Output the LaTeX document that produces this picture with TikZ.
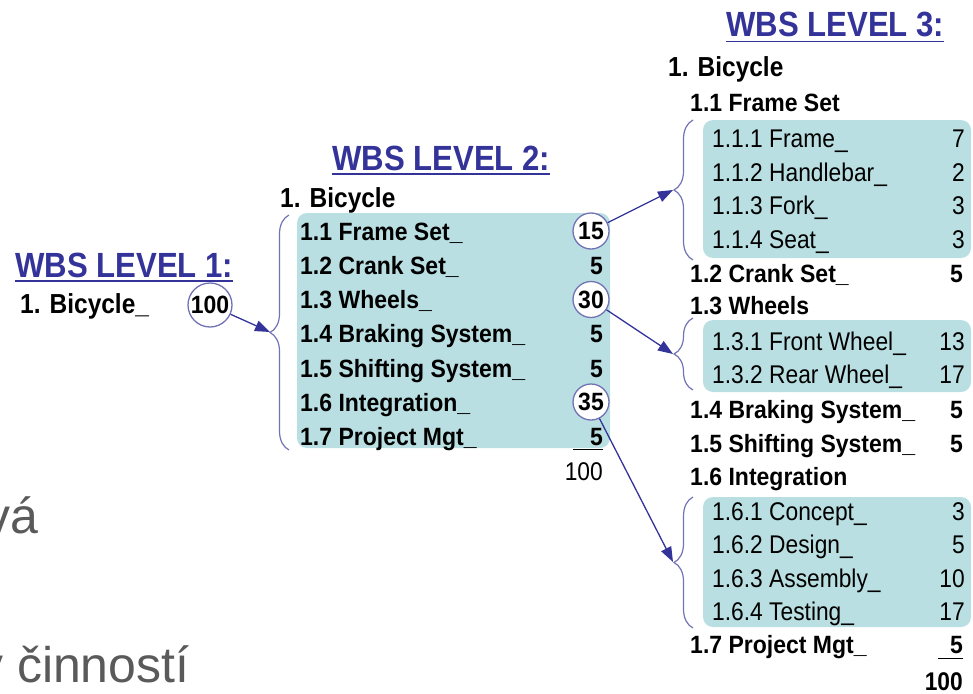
\documentclass[tikz,border=0pt]{standalone}
\usepackage{fontspec}
\setmainfont{Liberation Sans}
\newfontfamily\narrowfont[FakeStretch=0.89]{Liberation Sans}
\newfontfamily\condfont[FakeStretch=0.92]{Liberation Sans}
\usepackage{tikz}
\usetikzlibrary{arrows.meta}
\usetikzlibrary{decorations.pathreplacing}
\usetikzlibrary{calc}

\definecolor{wbsblue}{HTML}{333399}
\definecolor{bracecol}{HTML}{7272B4}
\definecolor{boxfill}{HTML}{B9DFE2}
\definecolor{greytext}{HTML}{5A5A5A}

\tikzset{
  title/.style={anchor=base west,inner sep=0pt,text=wbsblue,font=\narrowfont\bfseries\fontsize{35}{40}\selectfont},
  root/.style={anchor=base west,inner sep=0pt,font=\narrowfont\bfseries\fontsize{27.5}{32}\selectfont},
  item/.style={anchor=base west,inner sep=0pt,font=\condfont\bfseries\fontsize{25}{30}\selectfont},
  num/.style={anchor=base east,inner sep=0pt,font=\condfont\bfseries\fontsize{25}{30}\selectfont},
  sub/.style={anchor=base west,inner sep=0pt,font=\narrowfont\fontsize{25.6}{30}\selectfont},
  subnum/.style={anchor=base east,inner sep=0pt,font=\narrowfont\fontsize{25.6}{30}\selectfont},
  ring/.style={circle,draw=bracecol,fill=white,line width=1.3pt,minimum size=36pt,inner sep=0pt,font=\condfont\bfseries\fontsize{25}{30}\selectfont},
  brc/.style={draw=bracecol,line width=1.2pt,decorate,decoration={brace,amplitude=19pt}},
  panel/.style={fill=boxfill,rounded corners=10pt},
  link/.style={draw=wbsblue,line width=1.3pt,-{Triangle[length=15pt,width=11pt]}},
  bg/.style={anchor=base west,inner sep=0pt,text=greytext,font=\fontsize{50}{60}\selectfont}
}

\begin{document}
\begin{tikzpicture}[x=1pt,y=-1pt]
  \useasboundingbox (0,0) rectangle (973,693);
  % slide text behind the diagram
  \node[bg] (bga) at (-15,533) {vá};
  \node[bg] (bgb) at (-22,682) {v činností};

  % level 1
  \node[title] (t1) at (15,277) {WBS LEVEL 1:};
  \draw[wbsblue,line width=1.2pt] ([yshift=-4pt]t1.base west) -- ([yshift=-4pt]t1.base east);
  \node[root] (bike1) at (20,313) {1. Bicycle\_};
  \node[ring,minimum size=44pt] (r100) at (210,305) {100};

  % level 2
  \node[title] (t2) at (332,170) {WBS LEVEL 2:};
  \draw[wbsblue,line width=1.2pt] ([yshift=-4pt]t2.base west) -- ([yshift=-4pt]t2.base east);
  \node[root] (bike2) at (280,207) {1. Bicycle};
  \fill[panel] (297,213) rectangle (610,448);
  \draw[brc] (289,450) -- (289,215);
  \coordinate (tip0) at (270,332);
  \node[item] (fs2) at (300,240) {1.1 Frame Set\_};
  \node[item] (cs2) at (300,274) {1.2 Crank Set\_};
  \node[item] (wh2) at (300,308.5) {1.3 Wheels\_};
  \node[item] (bs2) at (300,342.7) {1.4 Braking System\_};
  \node[item] (ss2) at (300,377) {1.5 Shifting System\_};
  \node[item] (in2) at (300,411) {1.6 Integration\_};
  \node[item] (pm2) at (300,445) {1.7 Project Mgt\_};
  \node[ring] (r15) at (591,231) {15};
  \node[num] (n12) at (603,274) {5};
  \node[ring] (r30) at (591,299.5) {30};
  \node[num] (n14) at (603,342.7) {5};
  \node[num] (n15) at (603,377) {5};
  \node[ring] (r35) at (591,402) {35};
  \node[num] (n17) at (603,445) {5};
  \draw[line width=1pt] ([yshift=-4pt]n17.base east) -- ++(-30,0);
  \node[subnum] (sum2) at (603,480) {100};

  % level 3
  \node[title] (t3) at (726,37) {WBS LEVEL 3:};
  \draw[wbsblue,line width=1.2pt] ([yshift=-4.5pt]t3.base west) -- ([yshift=-4.5pt]t3.base east);
  \node[root] (bike3) at (668,76) {1. Bicycle};
  \node[item] (fs3) at (690,111) {1.1 Frame Set};
  \fill[panel] (703,120) rectangle (971,258);
  \draw[brc] (693,260) -- (693,120);
  \coordinate (tip1) at (673,190);
  \node[sub] (fr) at (712,147) {1.1.1 Frame\_};
  \node[sub] (hb) at (712,181) {1.1.2 Handlebar\_};
  \node[sub] (fk) at (712,214) {1.1.3 Fork\_};
  \node[sub] (st) at (712,248) {1.1.4 Seat\_};
  \node[subnum] (nfr) at (965,147) {7};
  \node[subnum] (nhb) at (965,181) {2};
  \node[subnum] (nfk) at (965,214) {3};
  \node[subnum] (nst) at (965,248) {3};
  \node[item] (cs3) at (690,282) {1.2 Crank Set\_};
  \node[num] (ncs3) at (963,282) {5};
  \node[item] (wh3) at (690,314) {1.3 Wheels};
  \fill[panel] (703,320) rectangle (971,392);
  \draw[brc] (693,390) -- (693,318);
  \coordinate (tip2) at (673,354);
  \node[sub] (fw) at (712,350) {1.3.1 Front Wheel\_};
  \node[sub] (rw) at (712,383) {1.3.2 Rear Wheel\_};
  \node[subnum] (nfw) at (965,350) {13};
  \node[subnum] (nrw) at (965,383) {17};
  \node[item] (bs3) at (690,418) {1.4 Braking System\_};
  \node[num] (nbs3) at (963,418) {5};
  \node[item] (ss3) at (690,452) {1.5 Shifting System\_};
  \node[num] (nss3) at (963,452) {5};
  \node[item] (in3) at (690,485) {1.6 Integration};
  \fill[panel] (703,497) rectangle (971,627);
  \draw[brc] (693,628) -- (693,497);
  \coordinate (tip3) at (673,562);
  \node[sub] (cc) at (712,520) {1.6.1 Concept\_};
  \node[sub] (dg) at (712,553) {1.6.2 Design\_};
  \node[sub] (as) at (712,587) {1.6.3 Assembly\_};
  \node[sub] (ts) at (712,620) {1.6.4 Testing\_};
  \node[subnum] (ncc) at (965,520) {3};
  \node[subnum] (ndg) at (965,553) {5};
  \node[subnum] (nas) at (965,587) {10};
  \node[subnum] (nts) at (965,620) {17};
  \node[item] (pm3) at (690,653) {1.7 Project Mgt\_};
  \node[num] (npm3) at (963,653) {5};
  \draw[line width=1pt] ([yshift=-5pt]npm3.base east) -- ++(-25,0);
  \node[subnum,font=\narrowfont\bfseries\fontsize{25.6}{30}\selectfont] (sum3) at (963,690) {100};

  % arrows between levels
  \draw[link] (r100) -- (tip0);
  \draw[link] (r15) -- (tip1);
  \draw[link] (r30) -- (tip2);
  \draw[link] (r35) -- (tip3);
\end{tikzpicture}
\end{document}
